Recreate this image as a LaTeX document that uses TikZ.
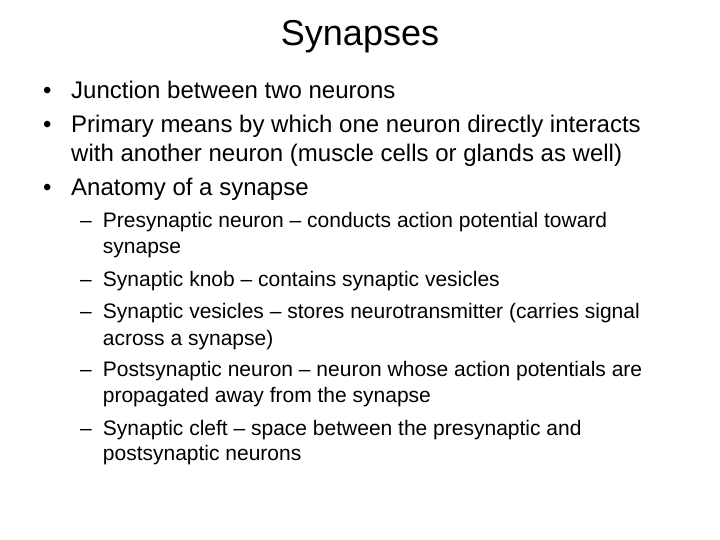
\documentclass[tikz,border=0pt]{standalone}
\usepackage{fontspec}
\setmainfont{Liberation Sans}
\begin{document}
\begin{tikzpicture}[x=1bp,y=-1bp,
  lone/.style={anchor=base west,inner sep=0pt,font=\fontsize{24bp}{29bp}\selectfont},
  ltwo/.style={anchor=base west,inner sep=0pt,font=\fontsize{21bp}{26bp}\selectfont},
  mark1/.style={anchor=base west,inner sep=0pt,font=\fontsize{24bp}{29bp}\selectfont},
  mark2/.style={anchor=base west,inner sep=0pt,font=\fontsize{21bp}{26bp}\selectfont}]
\useasboundingbox (0,0) rectangle (720,540);
\node[anchor=base,inner sep=0pt,font=\fontsize{36bp}{40bp}\selectfont] (title) at (360,46) {Synapses};
\node[mark1] (b1) at (43,99) {•};
\node[lone] (t1) at (71,99) {Junction between two neurons};
\node[mark1] (b2) at (43,132.7) {•};
\node[lone] (t2) at (71,132.7) {Primary means by which one neuron directly interacts};
\node[lone] (t2b) at (71,161.7) {with another neuron (muscle cells or glands as well)};
\node[mark1] (b3) at (43,196) {•};
\node[lone] (t3) at (71,196) {Anatomy of a synapse};
\node[mark2] (d1) at (80,228) {–};
\node[ltwo] (s1) at (102.7,228) {Presynaptic neuron – conducts action potential toward};
\node[ltwo] (s1b) at (102.7,254) {synapse};
\node[mark2] (d2) at (80,286.7) {–};
\node[ltwo] (s2) at (102.7,286.7) {Synaptic knob – contains synaptic vesicles};
\node[mark2] (d3) at (80,318) {–};
\node[ltwo] (s3) at (102.7,318) {Synaptic vesicles – stores neurotransmitter (carries signal};
\node[ltwo] (s3b) at (102.7,345) {across a synapse)};
\node[mark2] (d4) at (80,376.7) {–};
\node[ltwo] (s4) at (102.7,376.7) {Postsynaptic neuron – neuron whose action potentials are};
\node[ltwo] (s4b) at (102.7,402.7) {propagated away from the synapse};
\node[mark2] (d5) at (80,435) {–};
\node[ltwo] (s5) at (102.7,435) {Synaptic cleft – space between the presynaptic and};
\node[ltwo] (s5b) at (102.7,460) {postsynaptic neurons};
\end{tikzpicture}
\end{document}
